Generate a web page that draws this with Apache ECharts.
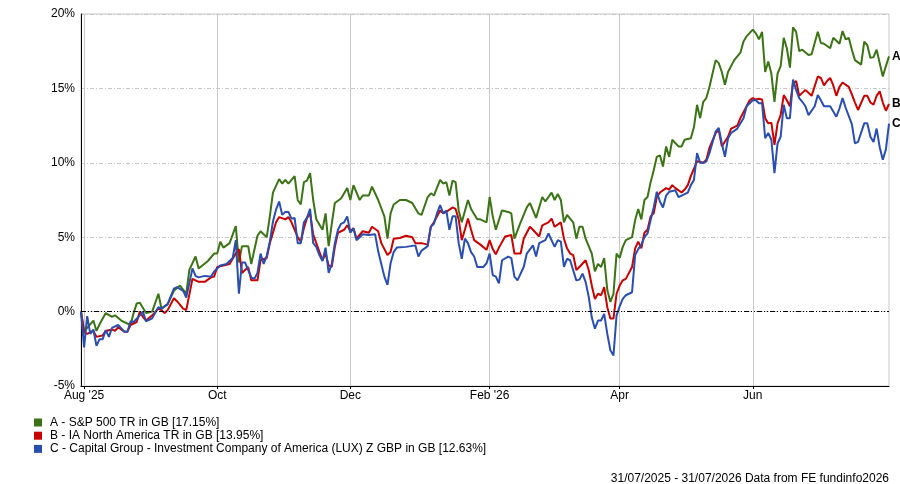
<!DOCTYPE html>
<html>
<head>
<meta charset="utf-8">
<script src="https://cdn.jsdelivr.net/npm/echarts@6/dist/echarts.min.js"></script>
<style>
  html, body { margin: 0; padding: 0; background: #fff; }
  #chart { width: 900px; height: 484px; }
</style>
</head>
<body>
<div id="chart"></div>
<script>
const startDate = '2025-07-31';
const endDate = '2026-07-31';

const tickDates = ['2025-08-01', '2025-10-01', '2025-12-01', '2026-02-02', '2026-04-01', '2026-06-01'];
const tickText = ["Aug '25", 'Oct', 'Dec', "Feb '26", 'Apr', 'Jun'];

const seriesNames = [
  'A - S&P 500 TR in GB [17.15%]',
  'B - IA North America TR in GB [13.95%]',
  'C - Capital Group - Investment Company of America (LUX) Z GBP in GB [12.63%]'
];
const seriesTags = ['A', 'B', 'C'];
const seriesColors = ['#3b7316', '#c80000', '#2a4eb0'];
const footerText = '31/07/2025 - 31/07/2026 Data from FE fundinfo2026';

// [weekday index from 31/07/2025, cumulative % growth]
const seriesA = [
  [0,0],[1,-1.3],[2,-1.1],[4,-0.6],[5,-1.3],[6,-0.85],[8,-0.1],[10,-0.35],[11,-0.25],[13,-0.6],
  [16,-0.9],[17,-0.1],[18,0.55],[19,0.6],[21,-0.1],[23,0],[25,1.2],[26,0.2],[28,0.5],[30,1.4],
  [32,1.75],[34,1.2],[35,2.8],[37,3.7],[38,2.9],[41,3.4],[43,3.9],[44,3.9],[45,4.7],[46,4.3],
  [48,4.6],[50,5.75],[51,3.3],[52,4.4],[54,4.4],[55,3.2],[57,5.1],[58,5.4],[60,5.0],[61,6.4],
  [62,8.0],[64,8.9],[65,8.6],[66,8.85],[67,8.6],[69,9.1],[70,7.5],[71,7.2],[72,8.7],[73,8.8],
  [74,9.3],[75,7.5],[76,6.2],[78,5.5],[79,6.6],[80,4.4],[81,5.9],[82,7.3],[84,7.6],[86,8.3],
  [87,7.5],[88,8.5],[90,7.5],[91,7.8],[93,7.8],[94,8.4],[96,7.5],[98,6.4],[99,4.9],[100,6.6],
  [101,7.2],[103,7.5],[105,7.5],[107,7.3],[109,6.6],[110,6.5],[112,7.7],[113,7.95],[114,7.8],[116,8.85],
  [117,8.6],[118,8.7],[119,7.8],[120,8.8],[121,8.7],[122,6.8],[123,6.0],[125,7.5],[126,6.9],[128,6.2],
  [129,6.2],[131,6.0],[132,7.7],[133,6.4],[134,5.5],[136,6.8],[138,6.7],[139,6.6],[140,4.9],[142,6.0],
  [144,7.0],[145,7.3],[147,6.3],[149,7.7],[150,7.4],[152,8.0],[153,7.5],[154,7.9],[155,7.5],[156,6.0],
  [157,6.5],[159,6.0],[160,4.9],[161,5.7],[162,5.7],[163,4.9],[165,3.9],[166,2.7],[167,3.2],[168,3.0],
  [169,3.6],[170,1.45],[171,0.65],[172,1.2],[173,3.9],[174,3.6],[175,4.35],[176,4.8],[178,5.0],[179,6.15],
  [180,6.9],[181,6.2],[182,7.5],[183,7.7],[184,8.7],[185,9.5],[186,10.4],[187,10.5],[188,9.75],[189,11.1],
  [190,10.4],[191,11.55],[193,11.1],[194,11.1],[195,11.55],[197,11.65],[198,12.4],[199,13.9],[200,13.0],[201,14.1],
  [202,14.35],[203,15.1],[205,16.9],[206,16.7],[207,16.1],[208,15.25],[209,16.1],[211,16.9],[213,17.4],[214,18.15],
  [215,18.5],[217,18.95],[218,18.7],[219,18.3],[220,18.8],[221,16.1],[222,16.8],[223,16.0],[224,14.1],[225,16.0],
  [226,16.5],[227,18.4],[228,17.7],[229,16.4],[230,19.1],[231,18.8],[232,17.5],[233,17.6],[235,17.25],[236,17.3],
  [238,18.8],[239,18.05],[240,18.0],[242,17.7],[243,18.4],[245,18.0],[246,18.85],[247,18.3],[248,18.4],[249,17.6],
  [250,16.9],[252,16.6],[253,18.15],[254,17.9],[255,17.05],[256,17.1],[257,17.6],[259,15.8],[260,16.5],[261,17.15]
];

const seriesB = [
  [0,0],[1,-1.4],[2,-1.5],[4,-1.3],[5,-1.7],[6,-1.65],[7,-1.6],[8,-1.3],[10,-1.2],[11,-1.3],
  [12,-1.05],[14,-1.35],[15,-1.35],[16,-0.9],[18,-0.7],[19,0],[20,-0.35],[21,-0.6],[23,-0.25],[25,0.2],
  [26,0.1],[27,-0.1],[28,0.1],[30,0.9],[31,0.7],[33,0.2],[34,0.1],[36,2.2],[37,2.1],[38,2.0],
  [40,2.0],[42,2.3],[43,2.35],[44,3.0],[46,3.1],[48,3.2],[50,3.9],[51,4.2],[52,2.6],[53,2.8],
  [54,3.0],[55,2.1],[57,2.1],[58,3.45],[60,3.6],[61,4.6],[63,6.0],[64,6.35],[66,6.2],[67,6.35],
  [68,6.0],[70,5.0],[71,4.7],[72,5.6],[73,6.3],[74,6.6],[75,5.2],[76,4.6],[78,3.45],[79,3.9],
  [80,3.1],[81,3.0],[82,4.35],[83,5.3],[85,5.5],[86,5.8],[87,5.4],[88,5.6],[89,4.9],[91,5.4],
  [93,5.3],[94,5.7],[96,5.4],[97,4.6],[99,3.8],[100,4.0],[101,4.9],[103,4.95],[105,5.1],[107,5.0],
  [108,4.6],[110,4.6],[112,4.5],[113,5.7],[114,6.0],[116,6.8],[117,6.6],[118,6.7],[120,7.0],[121,6.9],
  [122,6.2],[123,4.8],[124,5.5],[125,6.25],[126,5.5],[127,4.8],[129,4.5],[131,4.15],[132,4.8],[133,4.2],
  [134,3.85],[135,4.3],[137,5.05],[139,5.15],[140,3.9],[142,3.9],[143,4.9],[145,5.7],[146,5.5],[148,5.05],
  [149,5.8],[151,6.0],[152,6.25],[153,5.7],[155,6.0],[156,4.9],[157,4.25],[158,3.9],[159,3.8],[160,2.8],
  [161,3.0],[163,3.45],[164,2.8],[165,1.75],[166,0.85],[167,1.2],[168,1.1],[169,1.65],[170,0.3],[171,-0.47],
  [172,-0.47],[173,1.2],[174,1.75],[175,2.1],[176,2.2],[178,3.0],[179,4.25],[180,4.7],[181,4.25],[182,5.3],
  [183,5.5],[184,6.4],[185,6.6],[186,7.7],[187,8.0],[189,8.3],[190,8.2],[191,8.5],[192,8.3],[194,8.0],
  [195,8.2],[196,8.5],[197,9.1],[199,10.1],[201,10.0],[202,10.2],[203,11.0],[205,12.0],[206,12.2],[207,11.1],
  [209,11.75],[210,12.3],[212,12.5],[213,13.0],[215,13.8],[216,14.2],[217,14.35],[218,14.25],[219,14.3],[220,14.25],
  [221,13.0],[222,12.65],[223,12.7],[224,11.2],[225,12.65],[226,13.2],[227,14.55],[228,14.2],[229,13.8],[230,15.35],
  [231,15.5],[232,14.5],[233,14.7],[234,14.9],[236,14.5],[238,15.8],[239,15.7],[240,15.2],[241,15.5],[242,15.7],
  [243,15.2],[244,14.5],[245,15.1],[246,15.4],[248,15.1],[249,14.6],[250,14.05],[251,13.55],[253,14.5],[254,14.5],
  [255,14.05],[256,13.9],[257,14.5],[258,14.8],[259,14.05],[260,13.5],[261,13.95]
];

const seriesC = [
  [0,0],[1,-2.4],[2,-0.3],[3,-1.5],[4,-1.2],[5,-2.3],[6,-1.85],[7,-1.85],[8,-1.25],[9,-1.7],
  [10,-1.1],[12,-0.9],[14,-1.35],[15,-1.35],[16,-0.65],[17,-0.7],[19,-0.25],[20,0],[21,-0.65],[23,-0.45],
  [25,0.3],[26,0.2],[28,0.5],[30,1.55],[31,1.65],[33,1.4],[34,0.95],[36,2.9],[37,2.4],[38,2.3],
  [40,2.4],[42,2.35],[43,2.7],[45,3.1],[47,3.2],[49,3.6],[50,4.8],[51,1.2],[52,3.3],[53,3.3],
  [55,2.3],[56,2.2],[57,2.6],[58,3.9],[59,3.2],[60,3.75],[61,4.7],[62,6.05],[63,6.85],[64,7.4],
  [65,6.5],[66,6.7],[67,6.7],[68,6.25],[69,6.3],[70,4.6],[71,4.6],[72,6.0],[73,6.3],[74,6.9],
  [75,4.6],[76,4.35],[77,3.8],[78,3.4],[79,4.3],[80,2.6],[81,3.2],[82,4.6],[83,5.5],[84,5.9],
  [85,6.0],[86,6.4],[87,5.3],[88,5.6],[89,4.8],[90,5.0],[91,5.2],[93,5.15],[95,5.2],[96,4.05],
  [97,3.2],[98,2.35],[99,1.8],[100,3.25],[101,4.0],[102,4.3],[105,4.35],[108,4.45],[109,3.7],[110,4.1],
  [112,4.4],[113,5.7],[114,5.9],[115,6.6],[116,7.15],[117,6.6],[118,6.8],[119,5.5],[120,6.4],[121,6.4],
  [122,4.6],[123,3.55],[124,4.9],[125,4.6],[126,4.0],[127,3.7],[128,3.0],[130,3.0],[131,3.25],[132,3.9],
  [133,2.45],[134,2.35],[135,1.9],[136,3.45],[138,3.7],[139,3.6],[140,2.35],[141,2.1],[143,3.0],[144,3.9],
  [146,4.45],[147,3.7],[148,4.6],[150,4.8],[151,5.25],[153,4.35],[154,4.8],[155,4.7],[156,3.0],[157,3.55],
  [158,3.45],[160,2.1],[161,2.15],[162,2.55],[163,2.0],[164,1.0],[165,-0.4],[166,-1.15],[167,-0.6],[168,-0.6],
  [169,-0.15],[170,-1.5],[171,-2.6],[172,-2.95],[173,-0.25],[174,0.35],[175,0.85],[176,1.1],[178,1.3],[179,3.8],
  [180,4.2],[181,4.5],[182,5.0],[183,5.25],[184,6.15],[185,7.0],[186,8.05],[187,7.4],[188,7.0],[189,7.8],
  [190,8.05],[192,8.15],[193,7.7],[194,7.8],[196,8.0],[197,8.5],[198,8.85],[199,10.65],[200,10.0],[201,10.0],
  [202,10.1],[203,10.65],[205,12.1],[206,12.35],[207,11.3],[208,10.4],[209,11.65],[210,12.0],[212,12.3],[214,13.0],
  [215,13.8],[217,14.2],[218,14.2],[219,14.0],[220,14.0],[221,11.65],[222,12.0],[223,11.55],[224,9.3],[225,11.3],
  [226,11.75],[227,13.9],[228,13.0],[229,13.0],[230,15.6],[231,14.9],[232,14.35],[233,14.1],[234,13.8],[235,13.2],
  [237,13.8],[238,14.55],[239,14.2],[240,13.8],[242,13.8],[244,13.1],[245,13.65],[246,14.35],[247,13.7],[249,12.6],
  [250,11.3],[251,11.4],[253,12.65],[254,12.65],[255,11.75],[256,11.4],[257,12.3],[258,11.05],[259,10.2],[260,10.9],
  [261,12.63]
];

const fontFamily = "'Liberation Sans', Arial, sans-serif";

// trading days (weekdays) for the category axis
const days = [];
for (let d = new Date(startDate + 'T00:00:00Z'); d <= new Date(endDate + 'T00:00:00Z'); d.setUTCDate(d.getUTCDate() + 1)) {
  const wd = d.getUTCDay();
  if (wd !== 0 && wd !== 6) days.push(d.toISOString().slice(0, 10));
}
const tickIdx = tickDates.map(t => days.indexOf(t));
const isTick = (i) => tickIdx.includes(i);

const chart = echarts.init(document.getElementById('chart'));

const options = {
  animation: false,
  backgroundColor: '#fff',
  textStyle: { fontFamily: fontFamily },
  grid: {
    left: 81,
    right: 11,
    top: 14,
    bottom: 98,
    show: true,
    borderColor: '#c8c8c8',
    borderWidth: 1
  },
  legend: {
    orient: 'vertical',
    left: 34,
    top: 416.5,
    padding: 0,
    itemWidth: 8,
    itemHeight: 8,
    itemGap: 1.2,
    icon: 'rect',
    selectedMode: false,
    data: seriesNames,
    textStyle: { color: '#000', fontSize: 12, fontFamily: fontFamily, padding: [0, 0, 0, 3] }
  },
  xAxis: {
    type: 'category',
    data: days,
    boundaryGap: false,
    axisLine: { onZero: false, lineStyle: { color: '#000', width: 1 } },
    axisTick: { show: true, interval: isTick, length: 3, lineStyle: { color: '#000' } },
    axisLabel: {
      interval: isTick,
      formatter: (v) => tickText[tickDates.indexOf(v)],
      color: '#000',
      fontSize: 12,
      margin: 4,
      fontFamily: fontFamily
    },
    splitLine: { show: true, interval: isTick, lineStyle: { color: '#c8c8c8', width: 1 } }
  },
  yAxis: {
    type: 'value',
    min: -5,
    max: 20,
    interval: 5,
    axisLine: { show: true, lineStyle: { color: '#000', width: 1 } },
    axisTick: { show: false },
    axisLabel: { formatter: '{value}%', color: '#000', fontSize: 12, margin: 6, fontFamily: fontFamily },
    splitLine: { lineStyle: { color: '#c8c8c8', type: [4, 2, 1, 2], width: 1 } }
  },
  graphic: [
    {
      type: 'text',
      right: 11,
      top: 473,
      style: { text: footerText, fill: '#000', font: '12px ' + fontFamily }
    }
  ],
  series: [seriesA, seriesB, seriesC].map((d, i) => {
    const s = {
      name: seriesNames[i],
      type: 'line',
      data: d,
      symbol: 'none',
      showSymbol: false,
      lineStyle: { color: seriesColors[i], width: 2 },
      itemStyle: { color: seriesColors[i] },
      endLabel: {
        show: true,
        formatter: seriesTags[i],
        color: '#000',
        fontWeight: 'bold',
        fontSize: 12,
        distance: 3,
        fontFamily: fontFamily
      }
    };
    if (i === 0) {
      s.markLine = {
        silent: true,
        symbol: ['none', 'none'],
        label: { show: false },
        lineStyle: { color: '#000', type: [5, 2, 1, 2, 1, 2], width: 1 },
        data: [{ yAxis: 0 }]
      };
    }
    return s;
  })
};

chart.setOption(options);
</script>
</body>
</html>
